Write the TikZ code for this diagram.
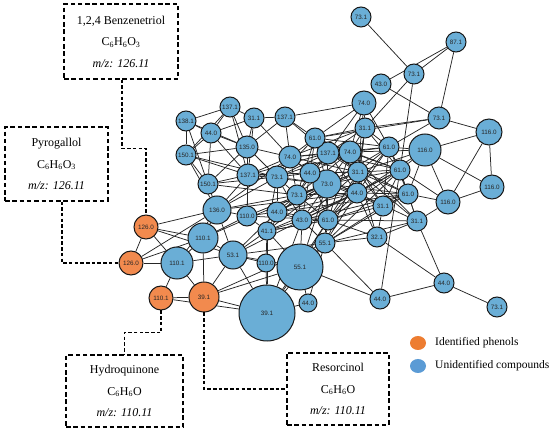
\documentclass[tikz,border=0pt]{standalone}
\usepackage{fontspec}
\setmainfont{Liberation Serif}
\newfontfamily\lblfont{Liberation Sans}
\usetikzlibrary{backgrounds,shapes.geometric}
\definecolor{nblue}{HTML}{6AAED6}
\definecolor{norange}{HTML}{F28A4E}
\definecolor{lorange}{HTML}{ED7D31}
\definecolor{lblue}{HTML}{5B9BD5}
\tikzset{
 bnode/.style={circle, draw=black!90, line width=1pt, fill=nblue, inner sep=0pt, font=\lblfont\fontsize{6.3}{6.3}\selectfont, text=black!85},
 onode/.style={bnode, fill=norange},
 edge/.style={draw=black!85, line width=0.75pt},
 conn/.style={line width=1.1pt, dash pattern=on 3.5pt off 2.2pt},
 infobox/.style={draw, line width=1.1pt, dash pattern=on 4.5pt off 2.8pt, align=center, font=\fontsize{12}{21.5}\selectfont},
 legdot/.style={ellipse, minimum width=16pt, minimum height=14pt, inner sep=0pt},
 legtext/.style={anchor=west, font=\fontsize{11.5}{12}\selectfont, inner sep=0pt},
}
\begin{document}
\begin{tikzpicture}[x=1pt,y=-1pt]
\useasboundingbox (0,0) rectangle (550,433);
% blue nodes
\foreach \n/\x/\y/\r/\l in {
 n1/361/17/10/73.1, n2/456/42/10/87.1, n3/414/74/10/73.1, n4/381/84/10/43.0,
 n5/364/103/12/74.0, n6/365/128/10/31.1, n7/439/118/11/73.1, n8/489/132/13/116.0,
 n9/425/150/16/116.0, n10/389/147/10/61.0, n11/350/152/11/74.0, n12/358/172/10/31.1,
 n13/400/170/10/61.0, n14/408/194/10/61.0, n15/492/187/12/116.0, n16/357/193/10/44.0,
 n17/448/202/12/116.0, n18/417/221/10/31.1, n19/383/206/10/31.1, n20/377/237/10/32.1,
 n21/444/283/10/44.0, n22/497/307/10/73.1, n23/380/299/10/44.0, n24/308/303/9/44.0,
 n25/300/267/23/55.1, n26/325/243/10/55.1, n27/328/220/10/61.0, n28/302/220/10/43.0,
 n29/277/212/10/44.0, n30/267/231/9/41.1, n31/266/263/9/110.0, n32/267/313/28/39.1,
 n33/327/184/14/73.0, n34/297/195/10/73.1, n35/310/173/10/44.0, n36/328/153/11/137.1,
 n37/315/138/10/61.0, n38/290/157/11/74.0, n39/277/177/11/73.1, n40/248/175/11/137.1,
 n41/247/216/10/110.0, n42/217/210/14/136.0, n43/208/184/10/150.1, n44/186/155/10/150.1,
 n45/186/121/10/138.1, n46/211/133/10/44.0, n47/230/107/10/137.1, n48/254/118/10/31.1,
 n49/285/117/10/137.1, n50/247/147/11/135.0, n51/233/255/14/53.1, n52/203/238/15/110.1,
 n53/177/263/16/110.1}
 {\node[bnode, minimum size=\r*2pt] (\n) at (\x,\y) {\l};}
% orange nodes
\foreach \n/\x/\y/\r/\l in {o1/146/227/12/126.0, o2/131/263/12/126.0, o3/161/298/12/110.1, o4/204/297/15/39.1}
 {\node[onode, minimum size=\r*2pt] (\n) at (\x,\y) {\l};}
% edges
\begin{pgfonlayer}{background}
\foreach \a/\b in {
 n1/n3, n2/n3, n2/n4, n2/n7, n3/n6, n3/n13, n4/n7, n5/n6, n5/n37, n5/n36, n5/n49,
 n6/n7, n37/n7, n7/n8, n7/n10, n8/n9, n9/n15, n8/n15, n8/n17, n9/n17, n9/n10, n9/n13, n9/n12,
 n15/n17, n13/n17, n14/n17, n18/n17, n18/n21, n21/n22, n21/n20, n21/n23, n23/n26, n23/n25, n23/n13,
 n20/n18, n20/n19, n20/n26, n20/n27, n20/n16, n20/n12, n24/n25, n24/n26, n24/n32,
 n26/n25, n26/n27, n26/n28, n26/n33, n26/n16, n26/n19, n26/n14, n26/n18,
 n18/n12, n18/n16, n18/n13, n18/n14, n18/n11,
 o1/o2, o1/n52, o1/n42, o1/n53, o1/n51, o2/n53, o2/n52, o2/n42, o3/n53, o3/o4, o4/n53, o4/n52,
 o4/n51, o4/n32, o3/n32, o4/n25, o4/n26,
 n53/n52, n53/n51, n53/n42, n52/n42, n52/n51, n52/n41, n51/n42, n51/n32, n51/n31, n51/n30, n51/n29,
 n51/n25, n51/n26, n51/n28, n42/n43, n42/n44, n42/n40, n42/n39, n42/n38, n42/n41, n42/n34,
 n31/n32, n31/n25, n31/n30, n25/n32, n32/n26, n32/n27, n41/n40, n41/n50, n41/n29,
 n45/n47, n45/n46, n45/n44, n45/n43, n45/n50, n46/n47, n46/n44, n46/n50, n46/n48, n46/n43, n46/n40,
 n47/n48, n47/n50, n47/n44, n47/n40, n48/n49, n48/n50, n48/n40, n48/n38, n49/n37, n49/n50, n49/n38,
 n49/n36, n50/n40, n50/n44, n50/n43, n50/n39, n50/n38, n44/n43, n44/n40, n44/n39, n43/n40, n43/n39,
 n43/n34, n40/n39, n40/n38, n40/n35,
 n37/n36, n37/n38, n37/n35, n37/n33, n37/n11, n37/n6, n37/n12, n37/n39, n37/n34, n37/n10,
 n36/n11, n36/n35, n36/n33, n36/n38, n36/n12, n36/n6, n36/n16, n36/n34, n36/n39, n36/n10,
 n11/n6, n11/n12, n11/n10, n11/n33, n11/n16, n11/n13, n11/n35,
 n12/n6, n12/n10, n12/n13, n12/n16, n12/n33, n12/n14, n12/n19, n12/n35, n12/n27,
 n10/n6, n10/n13, n10/n14, n10/n16, n13/n14, n13/n16, n13/n19, n14/n16, n14/n19,
 n16/n19, n16/n33, n16/n27, n16/n28, n16/n35, n19/n27, n19/n33,
 n33/n35, n33/n34, n33/n27, n33/n28, n33/n29, n33/n39, n33/n38,
 n35/n38, n35/n39, n35/n34, n35/n28, n35/n27, n38/n39, n38/n34, n38/n6,
 n39/n34, n39/n29, n39/n28, n39/n30, n34/n29, n34/n28, n34/n27, n34/n30,
 n29/n28, n29/n30, n29/n27, n28/n27, n28/n30, n27/n30, n27/n25, n30/n25, n30/n41,
 n25/n28, n25/n33, n32/n30, n32/n28,
 n27/n14, n27/n13, n27/n11, n27/n10, n27/n18, n42/n16, n41/n27, n52/n33, n29/n12, n28/n13, n34/n16,
 n33/n13, n33/n14, n33/n10, n35/n12, n35/n16, n34/n12, n34/n11, n28/n12, n29/n16, n29/n33,
 n30/n33, n30/n16, n26/n12, n26/n13, n19/n10, n19/n11, n16/n6, n36/n13, n36/n14, n37/n13,
 n38/n12, n38/n11, n39/n11, n9/n11, n9/n14, n9/n16, n6/n13, n6/n16, n5/n11, n5/n10, n5/n12,
 n28/n14, n29/n14, n30/n27, n41/n33, n40/n33, n40/n36}
 {\draw[edge] (\a) -- (\b);}
\end{pgfonlayer}
% info boxes
\node[infobox, minimum width=114pt, minimum height=75pt] (b1) at (121,41.5)
 {1,2,4 Benzenetriol\\C\textsubscript{6}H\textsubscript{6}O\textsubscript{3}\\\textit{m/z: 126.11}};
\node[infobox, minimum width=103pt, minimum height=74pt] (b2) at (56.5,164)
 {Pyrogallol\\C\textsubscript{6}H\textsubscript{6}O\textsubscript{3}\\\textit{m/z: 126.11}};
\node[infobox, minimum width=117pt, minimum height=72pt] (b3) at (124.5,391)
 {Hydroquinone\\C\textsubscript{6}H\textsubscript{6}O\\\textit{m/z: 110.11}};
\node[infobox, minimum width=102pt, minimum height=72pt] (b4) at (338,389)
 {Resorcinol\\C\textsubscript{6}H\textsubscript{6}O\\\textit{m/z: 110.11}};
% dashed connectors
\draw[conn] ([xshift=1pt]b1.south) -- ++(0,69) -| (o1.north);
\draw[conn] ([xshift=5.5pt]b2.south) |- (o2.west);
\draw[conn] (o3.south) -- ++(0,22) -| (b3.north);
\draw[conn] (o4.south) |- (b4.west);
% legend
\node[legdot, fill=lorange] (l1) at (418,343) {};
\node[legdot, fill=lblue] (l2) at (418,366) {};
\node[legtext] (l1t) at (435,343) {Identified phenols};
\node[legtext] (l2t) at (435,366) {Unidentified compounds};
\end{tikzpicture}
\end{document}
